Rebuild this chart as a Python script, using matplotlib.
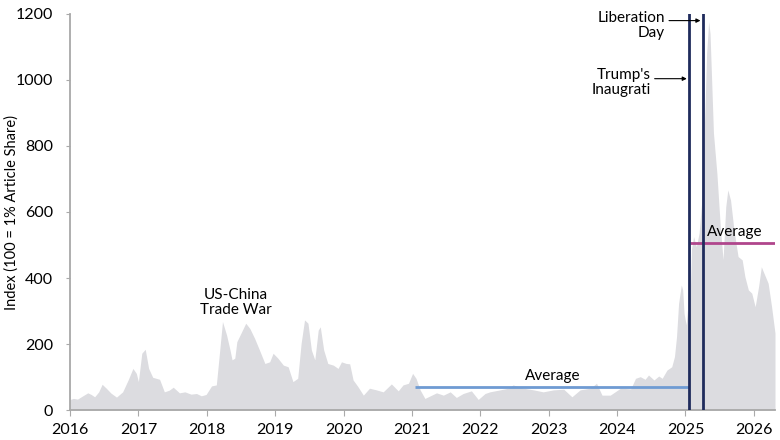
import matplotlib
matplotlib.use("Agg")
import matplotlib.pyplot as plt

plt.rcParams["font.family"] = ["Lato", "DejaVu Sans"]

# Weekly-ish index readings, decimal years
years = [
    2016.00, 2016.05, 2016.11, 2016.18, 2016.26, 2016.31, 2016.36, 2016.42, 2016.47, 2016.53,
    2016.60, 2016.68, 2016.77, 2016.85, 2016.92, 2016.97, 2017.00, 2017.05, 2017.10, 2017.15,
    2017.21, 2017.31, 2017.38, 2017.45, 2017.51, 2017.60, 2017.68, 2017.77, 2017.85, 2017.92,
    2017.99, 2018.07, 2018.14, 2018.19, 2018.23, 2018.29, 2018.34, 2018.37, 2018.41, 2018.44,
    2018.51, 2018.57, 2018.63, 2018.70, 2018.77, 2018.85, 2018.92, 2018.97, 2019.04, 2019.12,
    2019.19, 2019.26, 2019.33, 2019.38, 2019.43, 2019.48, 2019.53, 2019.58, 2019.63, 2019.66,
    2019.71, 2019.77, 2019.85, 2019.92, 2019.97, 2020.04, 2020.09, 2020.14, 2020.21, 2020.29,
    2020.38, 2020.48, 2020.58, 2020.70, 2020.80, 2020.87, 2020.95, 2021.01, 2021.06, 2021.12,
    2021.19, 2021.29, 2021.36, 2021.46, 2021.56, 2021.65, 2021.75, 2021.87, 2021.97, 2022.07,
    2022.14, 2022.29, 2022.41, 2022.48, 2022.63, 2022.78, 2022.92, 2023.07, 2023.22, 2023.34,
    2023.46, 2023.61, 2023.70, 2023.78, 2023.90, 2024.05, 2024.20, 2024.27, 2024.34, 2024.41,
    2024.46, 2024.54, 2024.61, 2024.66, 2024.73, 2024.80, 2024.84, 2024.87, 2024.90, 2024.94,
    2024.96, 2024.98, 2025.01, 2025.03, 2025.06, 2025.09, 2025.12, 2025.16, 2025.20, 2025.24,
    2025.29, 2025.31, 2025.34, 2025.36, 2025.39, 2025.41, 2025.46, 2025.51, 2025.55, 2025.59,
    2025.62, 2025.66, 2025.71, 2025.77, 2025.83, 2025.87, 2025.92, 2025.97, 2026.02, 2026.07,
    2026.11, 2026.17, 2026.21, 2026.26, 2026.31,
]
index_vals = [
    32, 35, 33, 42, 52, 47, 40, 55, 78, 66,
    51, 39, 55, 91, 126, 111, 86, 172, 184, 126,
    99, 93, 55, 60, 69, 52, 55, 48, 50, 43,
    47, 73, 76, 182, 268, 227, 182, 152, 157, 207,
    237, 263, 247, 217, 182, 141, 146, 172, 157, 136,
    131, 86, 96, 202, 273, 263, 182, 152, 242, 252,
    182, 141, 136, 126, 146, 141, 140, 91, 71, 45,
    66, 61, 55, 79, 58, 76, 81, 111, 96, 61,
    35, 45, 52, 45, 55, 38, 50, 58, 32, 50,
    55, 61, 66, 76, 66, 61, 55, 61, 63, 40,
    61, 66, 81, 45, 45, 66, 64, 96, 101, 93,
    106, 91, 103, 96, 121, 131, 162, 222, 323, 379,
    364, 293, 258, 303, 273, 490, 525, 495, 536, 636,
    939, 1081, 1177, 1141, 960, 839, 718, 556, 456, 616,
    667, 636, 545, 465, 455, 404, 364, 354, 313, 374,
    434, 404, 384, 313, 233,
]

tick_years = list(range(2016, 2027))
y_ticks = [0, 200, 400, 600, 800, 1000, 1200]

avg_pre = 70          # 2021 - Jan 2025 average
avg_post = 506        # since inauguration
inauguration = 2025.05
liberation_day = 2025.25

fig = plt.figure(figsize=(7.8, 4.4), dpi=100)
ax = fig.add_axes([70 / 780, 30 / 440, 705 / 780, 396 / 440])

ax.fill_between(years, index_vals, 0, color="#dcdce0", linewidth=0, zorder=1)

ax.hlines(avg_pre, 2021.05, inauguration, color="#6f9bd3", linewidth=2, zorder=2)
ax.hlines(avg_post, inauguration + 0.02, 2026.31, color="#b0458c", linewidth=2, zorder=2)
ax.axvline(inauguration, color="#1f2b5c", linewidth=2, zorder=3)
ax.axvline(liberation_day, color="#1f2b5c", linewidth=2, zorder=3)

ax.text(2023.06, avg_pre + 12, "Average", ha="center", va="bottom", fontsize=11)
ax.text(2025.72, avg_post + 12, "Average", ha="center", va="bottom", fontsize=11)
ax.text(2018.42, 327, "US-China\nTrade War", ha="center", va="center",
        fontsize=11, linespacing=1.1)

# event labels with small horizontal arrows
arrow_style = dict(arrowstyle="-|>", color="black", lw=0.8, mutation_scale=6,
                   shrinkA=0, shrinkB=0)
ax.text(2024.70, 1208, "Liberation\nDay", ha="right", va="top", fontsize=11,
        linespacing=1.1, clip_on=False)
ax.annotate("", xy=(liberation_day - 0.03, 1180), xytext=(2024.76, 1180),
            arrowprops=arrow_style)
ax.text(2024.49, 1036, "Trump's\nInaugrati", ha="right", va="top", fontsize=11,
        linespacing=1.1)
ax.annotate("", xy=(inauguration - 0.03, 1004), xytext=(2024.55, 1004),
            arrowprops=arrow_style)

ax.set_xlim(2016, 2026.31)
ax.set_ylim(0, 1200)
ax.set_xticks(tick_years)
ax.set_xticklabels([str(y) for y in tick_years], fontsize=11.5)
ax.set_yticks(y_ticks)
ax.set_yticklabels([str(v) for v in y_ticks], fontsize=11.5)
ax.tick_params(axis="y", length=3, color="#aaaaaa", pad=9)
ax.tick_params(axis="x", length=4, color="#aaaaaa", pad=5)

for side in ["top", "right"]:
    ax.spines[side].set_visible(False)
for side in ["left", "bottom"]:
    ax.spines[side].set_color("#a8a8a8")
    ax.spines[side].set_linewidth(1.3)

fig.text(12 / 780, 1 - 212 / 440, "Index (100 = 1% Article Share)", rotation=90,
         ha="center", va="center", fontsize=10.5)

fig.savefig("out.png", dpi=100)
